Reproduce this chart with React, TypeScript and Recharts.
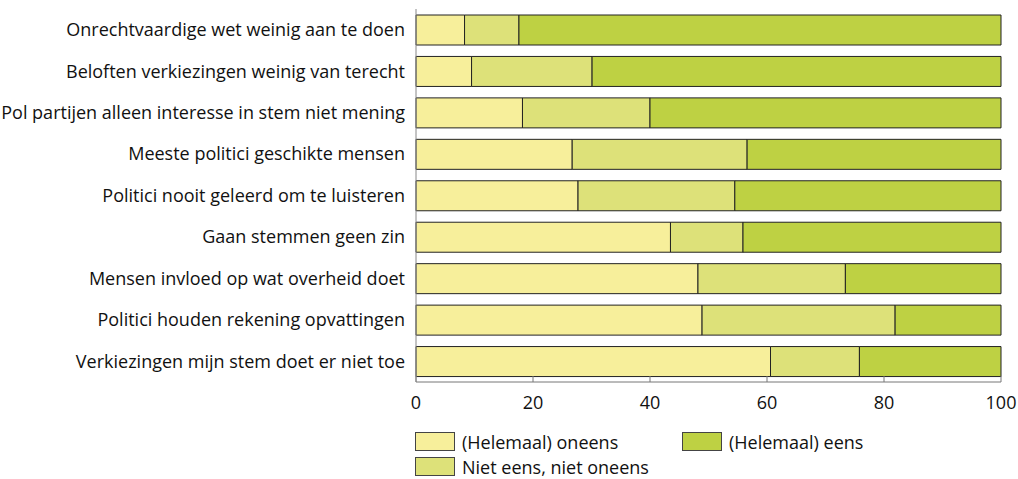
import React from 'react';
import { BarChart, Bar, XAxis, YAxis } from 'recharts';

const categories = [
  'Onrechtvaardige wet weinig aan te doen',
  'Beloften verkiezingen weinig van terecht',
  'Pol partijen alleen interesse in stem niet mening',
  'Meeste politici geschikte mensen',
  'Politici nooit geleerd om te luisteren',
  'Gaan stemmen geen zin',
  'Mensen invloed op wat overheid doet',
  'Politici houden rekening opvattingen',
  'Verkiezingen mijn stem doet er niet toe',
];
const oneens = [8.3, 9.5, 18.2, 26.7, 27.7, 43.5, 48.2, 48.9, 60.6];
const neutraal = [9.3, 20.6, 21.8, 29.9, 26.8, 12.4, 25.2, 33.0, 15.2];
const eens = [82.4, 69.9, 60.0, 43.4, 45.5, 44.1, 26.6, 18.1, 24.2];
const xTicks = [0, 20, 40, 60, 80, 100];

const seriesNames = ['(Helemaal) oneens', 'Niet eens, niet oneens', '(Helemaal) eens'];
const colors = ['#f7ef9b', '#dde179', '#bed143'];

const data = categories.map((name, i) => ({
  name,
  oneens: oneens[i],
  neutraal: neutraal[i],
  eens: eens[i],
}));

const FONT = '"Open Sans", sans-serif';

const Swatch = ({ color }: { color: string }) => (
  <span
    style={{
      display: 'inline-block',
      width: 38,
      height: 17,
      background: color,
      border: '1px solid #444',
      marginRight: 7,
      flex: 'none',
    }}
  />
);

const LegendItem = ({ color, label, left, top }: { color: string; label: string; left: number; top: number }) => (
  <div
    style={{
      position: 'absolute',
      left,
      top,
      height: 19,
      display: 'flex',
      alignItems: 'center',
      fontSize: 18,
      color: '#111',
      whiteSpace: 'nowrap',
    }}
  >
    <Swatch color={color} />
    <span>{label}</span>
  </div>
);

export default function App() {
  return (
    <div style={{ position: 'absolute', left: 0, top: 0, width: 1018, height: 479, background: '#fff', fontFamily: FONT, overflow: 'hidden' }}>
      <style>{'html,body{margin:0;overflow:hidden}'}</style>
      <BarChart
        width={1018}
        height={479}
        data={data}
        layout="vertical"
        margin={{ top: 9, right: 17, bottom: 67, left: 0 }}
        barSize={30}
      >
        <XAxis
          type="number"
          domain={[0, 100]}
          ticks={xTicks}
          interval={0}
          height={30}
          tickSize={-6}
          tickMargin={20}
          stroke="#777"
          tick={{ fill: '#111', fontSize: 18, fontFamily: FONT }}
        />
        <YAxis
          type="category"
          dataKey="name"
          width={416}
          tickLine={false}
          tickMargin={5}
          stroke="#888"
          interval={0}
          tick={{ fill: '#111', fontSize: 18, fontFamily: FONT }}
        />
        <Bar dataKey="oneens" stackId="a" fill={colors[0]} stroke="#222" strokeWidth={1} isAnimationActive={false} />
        <Bar dataKey="neutraal" stackId="a" fill={colors[1]} stroke="#222" strokeWidth={1} isAnimationActive={false} />
        <Bar dataKey="eens" stackId="a" fill={colors[2]} stroke="#222" strokeWidth={1} isAnimationActive={false} />
      </BarChart>
      <LegendItem color={colors[0]} label={seriesNames[0]} left={415} top={432} />
      <LegendItem color={colors[2]} label={seriesNames[2]} left={682} top={432} />
      <LegendItem color={colors[1]} label={seriesNames[1]} left={415} top={457} />
    </div>
  );
}
